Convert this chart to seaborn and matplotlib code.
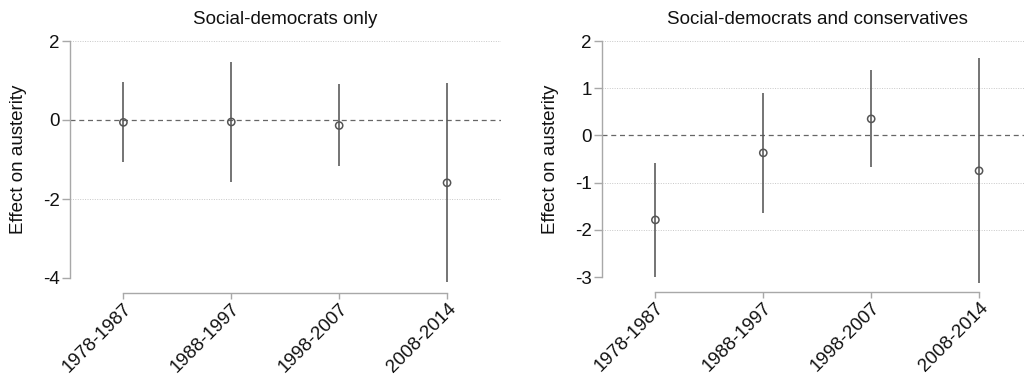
import matplotlib
matplotlib.use("Agg")
import matplotlib.pyplot as plt
import pandas as pd
import seaborn as sns

periods = ["1978-1987", "1988-1997", "1998-2007", "2008-2014"]

# Social-democrats only: point estimates and 95% interval bounds
sd_est = [-0.06, -0.05, -0.14, -1.59]
sd_lo = [-1.07, -1.57, -1.16, -4.10]
sd_hi = [0.95, 1.46, 0.90, 0.94]

# Social-democrats and conservatives
sc_est = [-1.79, -0.37, 0.35, -0.75]
sc_lo = [-2.99, -1.65, -0.68, -3.13]
sc_hi = [-0.58, 0.90, 1.39, 1.64]

sd_ticks = [2, 0, -2, -4]
sc_ticks = [2, 1, 0, -1, -2, -3]

titles = ["Social-democrats only", "Social-democrats and conservatives"]
ylabel = "Effect on austerity"

sns.set_style("white")
plt.rcParams["font.family"] = ["Liberation Sans", "DejaVu Sans"]
plt.rcParams["font.size"] = 13.5

SPINE = "#a8a8a8"
MARK = "#555555"
GRID = "#c8c8c8"

fig = plt.figure(figsize=(10.24, 3.76), dpi=100)
W, H = 1024, 376


def panel(rect, est, lo, hi, ticks, title):
    ax = fig.add_axes(rect)
    df = pd.DataFrame({"period": periods, "pos": range(len(periods)),
                       "est": est, "lo": lo, "hi": hi})
    ymin, ymax = min(ticks), max(ticks)
    ax.set_xlim(-0.495, 3.5)
    ax.set_ylim(ymin, ymax)

    # dotted horizontal grid
    for t in ticks:
        if t != 0:
            ax.axhline(t, color=GRID, lw=0.7, ls=(0, (1, 1.5)), zorder=1)
    ax.axhline(0, color="#666666", lw=0.9, ls=(0, (4, 3)), zorder=2)

    ax.vlines(df["pos"], df["lo"], df["hi"], color=MARK, lw=1.15,
              zorder=3, clip_on=False)
    sns.scatterplot(data=df, x="pos", y="est", ax=ax, marker="o",
                    s=27, facecolor="none", edgecolor=MARK, linewidth=1.1,
                    zorder=4, clip_on=False, legend=False)

    for s in ["top", "right"]:
        ax.spines[s].set_visible(False)
    ax.spines["left"].set_color(SPINE)
    ax.spines["bottom"].set_color(SPINE)
    ax.spines["left"].set_linewidth(1.0)
    ax.spines["bottom"].set_linewidth(1.0)
    ax.spines["left"].set_bounds(ymin, ymax)
    ax.spines["bottom"].set_bounds(0, len(periods) - 1)
    ax.spines["bottom"].set_position(("outward", 10.8))

    ax.set_yticks(ticks)
    ax.set_yticklabels([str(t) for t in ticks])
    ax.set_xticks(list(range(len(periods))))
    ax.set_xticklabels(periods, rotation=45, ha="right",
                       rotation_mode="anchor")
    ax.tick_params(axis="y", which="major", direction="out", left=True,
                   length=6, width=1.0, color=SPINE, labelsize=13.5,
                   labelcolor="#111111", pad=1.5)
    ax.tick_params(axis="x", which="major", direction="out", bottom=True,
                   length=4, width=1.0, color=SPINE, labelsize=13.5,
                   labelcolor="#111111", pad=1)
    ax.set_xlabel("")
    ax.set_ylabel(ylabel, fontsize=13.5, labelpad=11, color="#111111")
    ax.set_title(title, fontsize=13.5, pad=12, color="#111111")
    return ax


top = 41
panel([70 / W, (H - 278) / H, 431 / W, (278 - top) / H],
      sd_est, sd_lo, sd_hi, sd_ticks, titles[0])
panel([602 / W, (H - 277) / H, 431 / W, (277 - top) / H],
      sc_est, sc_lo, sc_hi, sc_ticks, titles[1])

fig.savefig("out.png", dpi=100, facecolor="white")
